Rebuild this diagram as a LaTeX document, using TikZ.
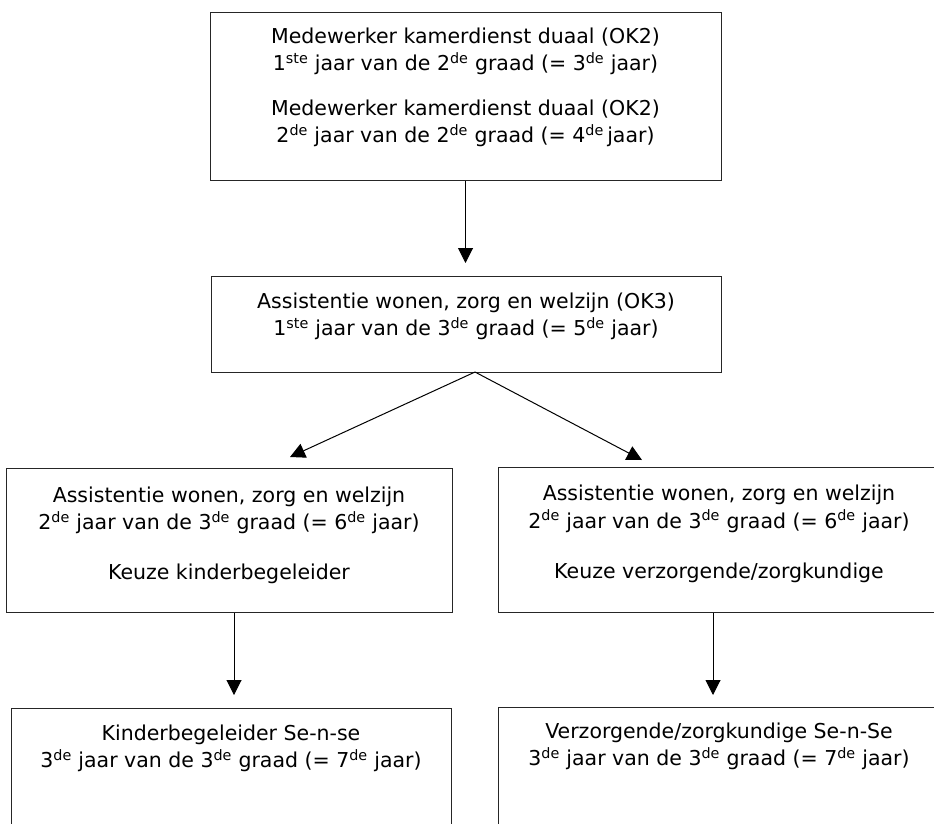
\documentclass[tikz,border=0pt]{standalone}
\usepackage{fontspec}
\setmainfont{DejaVu Sans}
\usetikzlibrary{arrows.meta}
\begin{document}
\begin{tikzpicture}[x=1pt,y=-1pt,
  box/.style={draw=black!85, line width=1.3pt, rectangle, inner sep=0pt, anchor=north west},
  lbl/.style={anchor=north, align=center, inner sep=0pt, font=\fontsize{20.5}{27.5}\selectfont},
  arr/.style={draw=black, line width=1pt, -{Triangle[width=15pt,length=15pt]}}]
\clip (0,0) rectangle (934,823);
\fill[white] (0,0) rectangle (934,823);
% boxes
\node[box, minimum width=511pt, minimum height=168pt] (k2) at (210,12) {};
\node[box, minimum width=510pt, minimum height=96pt] (k3) at (211,276) {};
\node[box, minimum width=446pt, minimum height=144pt] (kl) at (6,468) {};
\node[box, minimum width=442pt, minimum height=145pt] (kr) at (498,467) {};
\node[box, minimum width=440pt, minimum height=140pt] (bl) at (11,708) {};
\node[box, minimum width=442pt, minimum height=140pt] (br) at (498,707) {};
% texts
\node[lbl] (t-k2) at (465.5,23.75) {\strut Medewerker kamerdienst duaal (OK2)\\
1\textsuperscript{ste} jaar van de 2\textsuperscript{de} graad (= 3\textsuperscript{de} jaar)\\[17pt]
Medewerker kamerdienst duaal (OK2)\\
2\textsuperscript{de} jaar van de 2\textsuperscript{de} graad (= 4\textsuperscript{de}\,jaar)};
\node[lbl] (t-k3) at (466,288.75) {\strut Assistentie wonen, zorg en welzijn (OK3)\\
1\textsuperscript{ste} jaar van de 3\textsuperscript{de} graad (= 5\textsuperscript{de} jaar)};
\node[lbl] (t-kl) at (229,482.75) {\strut Assistentie wonen, zorg en welzijn\\
2\textsuperscript{de} jaar van de 3\textsuperscript{de} graad (= 6\textsuperscript{de} jaar)\\[22.5pt]
Keuze kinderbegeleider};
\node[lbl] (t-kr) at (719,481.5) {\strut Assistentie wonen, zorg en welzijn\\
2\textsuperscript{de} jaar van de 3\textsuperscript{de} graad (= 6\textsuperscript{de} jaar)\\[22.5pt]
Keuze verzorgende/zorgkundige};
\node[lbl] (t-bl) at (231,720.75) {\strut Kinderbegeleider Se-n-se\\
3\textsuperscript{de} jaar van de 3\textsuperscript{de} graad (= 7\textsuperscript{de} jaar)};
\node[lbl] (t-br) at (719,718.75) {\strut Verzorgende/zorgkundige Se-n-Se\\
3\textsuperscript{de} jaar van de 3\textsuperscript{de} graad (= 7\textsuperscript{de} jaar)};
% connector end points
\coordinate (e0) at (465.5,263);
\coordinate (s3) at (475,372);
\coordinate (e1) at (290,457);
\coordinate (e2) at (642,460);
\coordinate (e3) at (234,695);
\coordinate (e4) at (713,695);
% connectors
\draw[arr] (k2.south -| e0) -- (e0);
\draw[arr] (s3) -- (e1);
\draw[arr] (s3) -- (e2);
\draw[arr] (kl.south -| e3) -- (e3);
\draw[arr] (kr.south -| e4) -- (e4);
\end{tikzpicture}
\end{document}
